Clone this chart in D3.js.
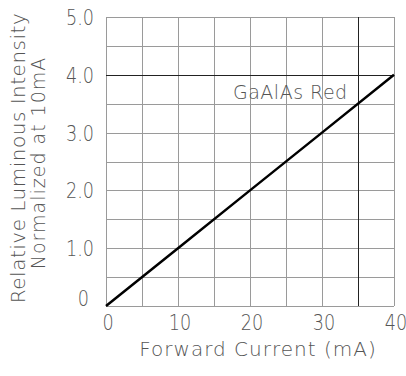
<!DOCTYPE html>
<html>
<head>
<meta charset="utf-8">
<script src="https://cdn.jsdelivr.net/npm/d3@7"></script>
<style>
  html, body { margin: 0; padding: 0; background: #fff; }
  svg text { font-family: "DejaVu Sans", sans-serif; font-weight: 200; fill: #555; }
</style>
</head>
<body>
<script>
// Forward current (mA) vs relative luminous intensity, normalized at 10 mA
const currents = [0, 10, 20, 30, 40];
const intensity = [0, 1.0, 2.0, 3.0, 4.0];
const xTickValues = [0, 10, 20, 30, 40];
const yTickValues = [0, 1, 2, 3, 4, 5];
const yTickLabels = ["0", "1.0", "2.0", "3.0", "4.0", "5.0"];
const seriesName = "GaAlAs Red";
const refIntensity = 4.0;   // emphasised horizontal rule
const refCurrent = 35;      // emphasised vertical rule

const W = 406, H = 376;
const margin = { left: 106, right: 12, top: 17, bottom: 70 };

const svg = d3.select("body").append("svg")
  .attr("width", W).attr("height", H);

const x = d3.scaleLinear().domain([0, 40]).range([margin.left, W - margin.right]);
const y = d3.scaleLinear().domain([0, 5]).range([H - margin.bottom, margin.top]);

// grid
const grid = svg.append("g").attr("stroke", "#9a9a9a").attr("stroke-width", 1).attr("shape-rendering", "crispEdges");
grid.selectAll("line.v").data(d3.range(0, 40.1, 5)).join("line")
  .attr("x1", d => Math.round(x(d)) + 0.5).attr("x2", d => Math.round(x(d)) + 0.5)
  .attr("y1", y(5)).attr("y2", y(0));
grid.selectAll("line.h").data(d3.range(0, 5.01, 0.5)).join("line")
  .attr("x1", x(0)).attr("x2", x(40))
  .attr("y1", d => Math.round(y(d)) + 0.5).attr("y2", d => Math.round(y(d)) + 0.5);

// emphasised rules
svg.append("line").attr("stroke", "#222").attr("stroke-width", 1).attr("shape-rendering", "crispEdges")
  .attr("x1", x(0)).attr("x2", x(40))
  .attr("y1", Math.round(y(refIntensity)) + 0.5).attr("y2", Math.round(y(refIntensity)) + 0.5);
svg.append("line").attr("stroke", "#222").attr("stroke-width", 1).attr("shape-rendering", "crispEdges")
  .attr("x1", Math.round(x(refCurrent)) + 0.5).attr("x2", Math.round(x(refCurrent)) + 0.5)
  .attr("y1", y(5)).attr("y2", y(0));

// data line
const line = d3.line().x((d, i) => x(currents[i])).y(d => y(d));
svg.append("path").datum(intensity)
  .attr("fill", "none").attr("stroke", "#000").attr("stroke-width", 2.5)
  .attr("d", line);

// y tick labels
svg.append("g").selectAll("text").data(yTickValues).join("text")
  .attr("transform", (d, i) => `translate(${d === 0 ? 89 : 94},${d === 0 ? y(d) - 8 : y(d)}) scale(0.8,1)`)
  .attr("text-anchor", "end").attr("dy", "0.36em")
  .attr("font-size", 22)
  .text((d, i) => yTickLabels[i]);

// x tick labels
svg.append("g").selectAll("text").data(xTickValues).join("text")
  .attr("transform", d => `translate(${x(d) + 2},${330}) scale(0.8,1)`)
  .attr("text-anchor", "middle")
  .attr("font-size", 22)
  .text(d => d);

// axis titles
svg.append("text").attr("x", 258).attr("y", 356).attr("text-anchor", "middle")
  .attr("font-size", 20).attr("letter-spacing", 1)
  .text("Forward Current (mA)");
svg.append("text").attr("transform", `translate(25,${158}) rotate(-90)`).attr("text-anchor", "middle")
  .attr("font-size", 20).attr("letter-spacing", 0.5)
  .text("Relative Luminous Intensity");
svg.append("text").attr("transform", `translate(45,${163}) rotate(-90)`).attr("text-anchor", "middle")
  .attr("font-size", 19).attr("letter-spacing", 1)
  .text("Normalized at 10mA");

// series label
svg.append("text").attr("x", 233).attr("y", 99)
  .attr("font-size", 19).attr("letter-spacing", 0.5)
  .text(seriesName);
</script>
</body>
</html>
